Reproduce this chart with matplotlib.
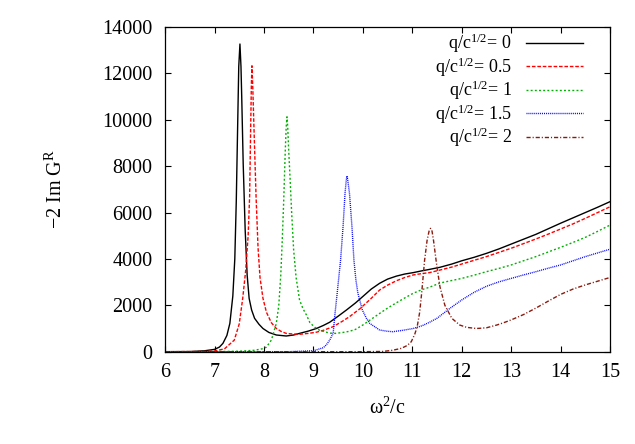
import numpy as np
import matplotlib
matplotlib.use('Agg')
import matplotlib.pyplot as plt

x_q0 = [6.0, 6.5, 6.8, 7.0, 7.1, 7.17, 7.25, 7.31, 7.37, 7.41, 7.44, 7.47, 7.49, 7.514,
        7.535, 7.55, 7.58, 7.62, 7.66, 7.70, 7.75, 7.81, 7.9, 7.98, 8.1, 8.25, 8.45,
        8.6, 8.72, 8.9, 9.06, 9.2, 9.33, 9.5, 9.67, 9.85, 10.0, 10.17, 10.34, 10.5,
        10.68, 10.85, 11.02, 11.2, 11.35, 11.56, 11.8, 12.0, 12.25, 12.5, 12.75,
        13.0, 13.25, 13.5, 13.75, 14.0, 14.25, 14.5, 14.75, 15.0]
y_q0 = [0, 5, 40, 100, 200, 360, 700, 1220, 2400, 4000, 6500, 10000, 12300, 13270,
        12300, 11000, 8100, 5250, 3300, 2300, 1800, 1440, 1180, 1000, 830, 720, 677,
        720, 790, 890, 1000, 1130, 1270, 1530, 1800, 2100, 2380, 2700, 2950, 3130,
        3260, 3350, 3410, 3490, 3550, 3640, 3780, 3920, 4070, 4240, 4430,
        4640, 4850, 5060, 5300, 5540, 5770, 6000, 6230, 6470]

x_q05 = [6.0, 6.8, 7.0, 7.2, 7.4, 7.5, 7.57, 7.63, 7.68, 7.71, 7.73, 7.745, 7.757,
         7.775, 7.8, 7.84, 7.88, 7.92, 7.98, 8.05, 8.15, 8.25, 8.35, 8.45, 8.6, 8.72,
         8.9, 9.06, 9.2, 9.4, 9.6, 9.73, 9.94, 10.17, 10.34, 10.5, 10.68, 10.85,
         11.02, 11.2, 11.35, 11.56, 11.8, 12.0, 12.25, 12.5, 12.75, 13.0, 13.25,
         13.5, 13.75, 14.0, 14.25, 14.5, 14.75, 15.0]
y_q05 = [0, 10, 30, 120, 500, 1200, 2300, 3500, 5000, 6700, 9500, 11500, 12330,
         11300, 9500, 6700, 4500, 3200, 2300, 1700, 1250, 1000, 870, 790, 760, 750,
         790, 840, 920, 1080, 1330, 1510, 1850, 2300, 2660, 2870, 3060, 3200,
         3310, 3370, 3410, 3520, 3650, 3780, 3940, 4100, 4280, 4460, 4660,
         4860, 5070, 5290, 5510, 5750, 6000, 6250]

x_q1 = [6.0, 7.0, 7.5, 7.8, 7.98, 8.05, 8.15, 8.25, 8.30, 8.34, 8.37, 8.40, 8.43,
        8.45, 8.466, 8.48, 8.50, 8.53, 8.56, 8.60, 8.65, 8.72, 8.79, 8.86, 8.93,
        9.03, 9.13, 9.23, 9.33, 9.45, 9.6, 9.73, 9.85, 10.0, 10.17, 10.34, 10.5,
        10.68, 10.85, 11.02, 11.2, 11.35, 11.56, 11.8, 12.0, 12.25, 12.5, 12.75,
        13.0, 13.25, 13.5, 13.75, 14.0, 14.25, 14.5, 14.75, 15.0]
y_q1 = [0, 5, 20, 60, 130, 200, 500, 1220, 2000, 3300, 4800, 6540, 8600,
        9700, 10130, 9700, 8700, 7400, 6000, 4400, 3200, 2230, 1850, 1580, 1250,
        1050, 920, 860, 800, 790, 830, 880, 960, 1150, 1400, 1650, 1880,
        2110, 2320, 2520, 2680, 2780, 2960, 3070, 3160, 3300, 3450, 3590,
        3740, 3920, 4100, 4300, 4500, 4710, 4930, 5190, 5460]

x_q15 = [6.0, 8.5, 9.0, 9.2, 9.26, 9.33, 9.40, 9.44, 9.48, 9.55, 9.60, 9.64, 9.665,
         9.68, 9.695, 9.73, 9.78, 9.82, 9.86, 9.90, 9.99, 10.07, 10.14, 10.34, 10.5,
         10.61, 10.8, 11.02, 11.2, 11.35, 11.5, 11.75, 12.0, 12.25, 12.5, 12.75,
         13.0, 13.25, 13.5, 13.75, 14.0, 14.25, 14.5, 14.75, 15.0]
y_q15 = [0, 0, 40, 170, 290, 500, 800, 1700, 2500, 3950, 5390, 6830, 7400,
         7580, 7400, 6830, 5390, 3950, 3090, 2520, 1800, 1450, 1220, 935, 880,
         862, 920, 1000, 1120, 1270, 1440, 1850, 2230, 2560, 2820, 3010,
         3160, 3310, 3450, 3600, 3740, 3920, 4100, 4260, 4420]

x_q2 = [6.0, 10.0, 10.4, 10.6, 10.78, 10.9, 10.98, 11.05, 11.1, 11.15, 11.19, 11.25,
        11.30, 11.34, 11.37, 11.40, 11.43, 11.49, 11.56, 11.66, 11.8, 11.96, 12.1,
        12.3, 12.5, 12.71, 12.85, 13.0, 13.25, 13.5, 13.75, 14.0, 14.25, 14.5,
        14.75, 15.0]
y_q2 = [0, 0, 10, 60, 145, 270, 430, 750, 1080, 1700, 2520, 3950,
        4800, 5200, 5320, 5200, 4800, 3810, 2800, 2000, 1440, 1150, 1050,
        1000, 1030, 1150, 1250, 1370, 1600, 1880, 2180, 2470, 2700, 2880,
        3040, 3200]

labels = [r'q/c$^{1/2}$= 0', r'q/c$^{1/2}$= 0.5', r'q/c$^{1/2}$= 1',
          r'q/c$^{1/2}$= 1.5', r'q/c$^{1/2}$= 2']

plt.rcParams['font.family'] = 'Liberation Serif'
plt.rcParams['mathtext.fontset'] = 'custom'
plt.rcParams['mathtext.rm'] = 'Liberation Serif'
plt.rcParams['mathtext.it'] = 'Liberation Serif:italic'
plt.rcParams['mathtext.default'] = 'regular'

fig = plt.figure(figsize=(6.35, 4.44), dpi=100)
ax = fig.add_axes([0.26, 0.2079, 0.7006, 0.7311])

ax.plot(x_q0, y_q0, color='black', lw=1.0, label=labels[0])
ax.plot(x_q05, y_q05, color='#ff0000', lw=1.0, dashes=(2.6, 1.3), label=labels[1])
ax.plot(x_q1, y_q1, color='#00b000', lw=1.0, dashes=(1.4, 1.6), label=labels[2])
ax.plot(x_q15, y_q15, color='#0000ff', lw=1.0, dashes=(0.7, 0.7), label=labels[3])
ax.plot(x_q2, y_q2, color='#8b1a0e', lw=1.0, dashes=(3.0, 1.4, 0.8, 1.4), label=labels[4])

ax.set_xlim(6, 15)
ax.set_ylim(0, 14000)
ax.set_xticks(np.arange(6, 16, 1))
ax.set_yticks(np.arange(0, 14001, 2000))
ax.tick_params(direction='in', top=True, right=True, length=4, width=0.8,
               labelsize=14.5)
ax.tick_params(axis='x', pad=8)
ax.tick_params(axis='y', pad=9)
for s in ax.spines.values():
    s.set_linewidth(0.9)

ax.set_xlabel(r'ω$^2$/c', fontsize=14.5)
ax.set_ylabel(r'−2 Im G$^{\rm R}$', fontsize=14.5)
ax.xaxis.set_label_coords(0.5, -0.14)
ax.yaxis.set_label_coords(-0.222, 0.5)

leg = ax.legend(loc='upper right', bbox_to_anchor=(0.94, 0.985), frameon=False,
                markerfirst=False, fontsize=13, handlelength=3.2,
                handletextpad=0.75, labelspacing=0.0, borderpad=0, borderaxespad=0)

fig.savefig('out.png', dpi=100)
